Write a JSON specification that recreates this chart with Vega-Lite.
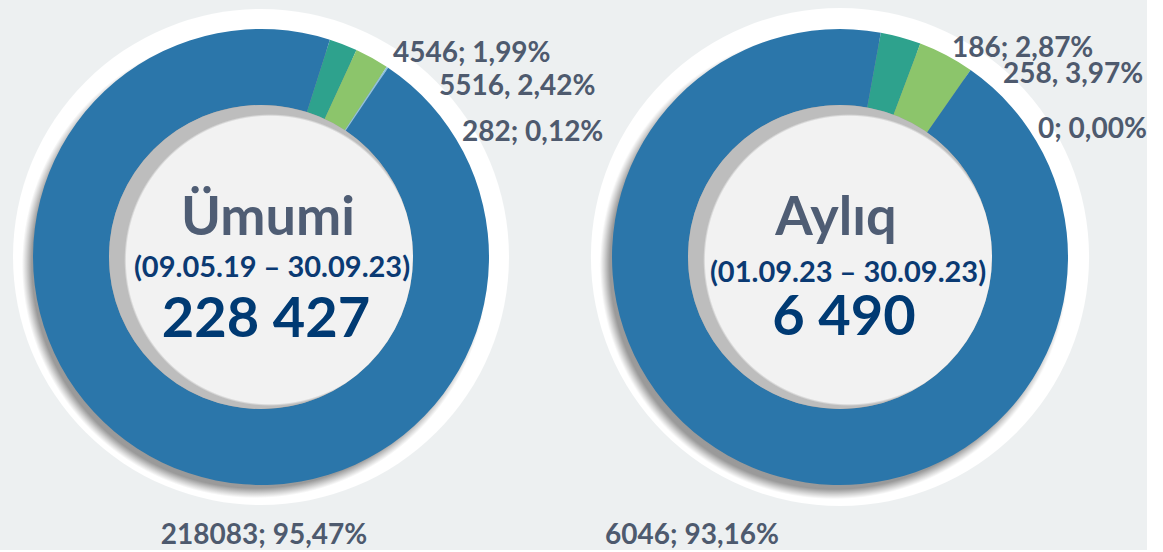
{
  "$schema": "https://vega.github.io/schema/vega-lite/v6.json",
  "background": "#EDF0F1",
  "padding": 0,
  "autosize": {"type": "pad"},
  "bounds": "flush",
  "spacing": 57,
  "config": {"view": {"stroke": null}, "text": {"font": "Lato"}},
  "datasets": {
    "umumi": [
      {"category": "cat1", "value": 4546, "label": "4546; 1,99%"},
      {"category": "cat2", "value": 5516, "label": "5516, 2,42%"},
      {"category": "cat3", "value": 282, "label": "282; 0,12%"},
      {"category": "cat4", "value": 218083, "label": "218083; 95,47%"}
    ],
    "ayliq": [
      {"category": "cat1", "value": 186, "label": "186; 2,87%"},
      {"category": "cat2", "value": 258, "label": "258, 3,97%"},
      {"category": "cat3", "value": 0, "label": "0; 0,00%"},
      {"category": "cat4", "value": 6046, "label": "6046; 93,16%"}
    ],
    "panels": [
      {"panel": "umumi", "title": "Ümumi", "period": "(09.05.19 – 30.09.23)", "total": "228 427"},
      {"panel": "ayliq", "title": "Aylıq", "period": "(01.09.23 – 30.09.23)", "total": "6 490"}
    ]
  },
  "hconcat": [
    {
      "width": 522,
      "height": 514,
      "layer": [
        {
          "data": {"name": "panels"},
          "transform": [{"filter": {"field": "panel", "equal": "umumi"}}],
          "mark": {"type": "arc", "radius": 248, "theta": 0, "theta2": 6.2832,
            "fill": {"gradient": "radial", "x1": 0.488, "y1": 0.516, "r1": 0, "x2": 0.488, "y2": 0.516, "r2": 0.5,
              "stops": [{"offset": 0, "color": "#8f8f8f"}, {"offset": 0.9, "color": "#9a9a9a"}, {"offset": 0.922, "color": "#d4d4d4"}, {"offset": 0.94, "color": "#ffffff"}, {"offset": 1, "color": "#ffffff"}]}},
          "encoding": {}
        },
        {
          "data": {"name": "umumi"},
          "mark": {"type": "arc", "radius": 228, "innerRadius": 152},
          "encoding": {
            "theta": {"field": "value", "type": "quantitative", "stack": true, "scale": {"range": [0.307, 6.590]}},
            "color": {"field": "category", "type": "nominal", "legend": null,
              "scale": {"domain": ["cat1", "cat2", "cat3", "cat4"], "range": ["#2EA28D", "#8CC56B", "#8EC3DF", "#2B76AA"]}},
            "order": {"field": "category", "sort": "ascending"}
          }
        },
        {
          "data": {"name": "panels"},
          "transform": [{"filter": {"field": "panel", "equal": "umumi"}}],
          "mark": {"type": "arc", "radius": 152, "theta": 0, "theta2": 6.2832,
            "fill": {"gradient": "radial", "x1": 0.53, "y1": 0.51, "r1": 0, "x2": 0.53, "y2": 0.51, "r2": 0.48,
              "stops": [{"offset": 0, "color": "#F2F2F2"}, {"offset": 0.985, "color": "#F2F2F2"}, {"offset": 1, "color": "#BDBDBD"}]}},
          "encoding": {}
        },
        {
          "data": {"name": "panels"},
          "transform": [{"filter": {"field": "panel", "equal": "umumi"}}],
          "mark": {"type": "text", "fontSize": 54, "fontWeight": "bold", "color": "#4F5D74", "align": "center", "baseline": "alphabetic", "dx": 7, "dy": -22},
          "encoding": {"text": {"field": "title"}}
        },
        {
          "data": {"name": "panels"},
          "transform": [{"filter": {"field": "panel", "equal": "umumi"}}],
          "mark": {"type": "text", "fontSize": 29, "fontWeight": "bold", "color": "#0B3A73", "align": "center", "baseline": "alphabetic", "dx": 11, "dy": 20},
          "encoding": {"text": {"field": "period"}}
        },
        {
          "data": {"name": "panels"},
          "transform": [{"filter": {"field": "panel", "equal": "umumi"}}],
          "mark": {"type": "text", "fontSize": 56, "fontWeight": "bold", "color": "#003A73", "align": "center", "baseline": "alphabetic", "dx": 5, "dy": 80},
          "encoding": {"text": {"field": "total"}}
        },
        {
          "data": {"name": "umumi"},
          "transform": [{"filter": {"field": "category", "equal": "cat1"}}],
          "mark": {"type": "text", "fontSize": 28, "fontWeight": "bold", "color": "#4E5A6E", "align": "left", "baseline": "alphabetic", "dx": 132, "dy": -195},
          "encoding": {"text": {"field": "label"}}
        },
        {
          "data": {"name": "umumi"},
          "transform": [{"filter": {"field": "category", "equal": "cat2"}}],
          "mark": {"type": "text", "fontSize": 28, "fontWeight": "bold", "color": "#4E5A6E", "align": "left", "baseline": "alphabetic", "dx": 178, "dy": -162},
          "encoding": {"text": {"field": "label"}}
        },
        {
          "data": {"name": "umumi"},
          "transform": [{"filter": {"field": "category", "equal": "cat3"}}],
          "mark": {"type": "text", "fontSize": 28, "fontWeight": "bold", "color": "#4E5A6E", "align": "left", "baseline": "alphabetic", "dx": 201, "dy": -116},
          "encoding": {"text": {"field": "label"}}
        },
        {
          "data": {"name": "umumi"},
          "transform": [{"filter": {"field": "category", "equal": "cat4"}}],
          "mark": {"type": "text", "fontSize": 28, "fontWeight": "bold", "color": "#4E5A6E", "align": "center", "baseline": "alphabetic", "dx": 3, "dy": 287},
          "encoding": {"text": {"field": "label"}}
        }
      ]
    },
    {
      "width": 522,
      "height": 514,
      "layer": [
        {
          "data": {"name": "panels"},
          "transform": [{"filter": {"field": "panel", "equal": "ayliq"}}],
          "mark": {"type": "arc", "radius": 249, "theta": 0, "theta2": 6.2832,
            "fill": {"gradient": "radial", "x1": 0.488, "y1": 0.516, "r1": 0, "x2": 0.488, "y2": 0.516, "r2": 0.5,
              "stops": [{"offset": 0, "color": "#8f8f8f"}, {"offset": 0.9, "color": "#9a9a9a"}, {"offset": 0.922, "color": "#d4d4d4"}, {"offset": 0.94, "color": "#ffffff"}, {"offset": 1, "color": "#ffffff"}]}},
          "encoding": {}
        },
        {
          "data": {"name": "ayliq"},
          "mark": {"type": "arc", "radius": 228, "innerRadius": 152},
          "encoding": {
            "theta": {"field": "value", "type": "quantitative", "stack": true, "scale": {"range": [0.18, 6.463]}},
            "color": {"field": "category", "type": "nominal", "legend": null,
              "scale": {"domain": ["cat1", "cat2", "cat3", "cat4"], "range": ["#2EA28D", "#8CC56B", "#8EC3DF", "#2B76AA"]}},
            "order": {"field": "category", "sort": "ascending"}
          }
        },
        {
          "data": {"name": "panels"},
          "transform": [{"filter": {"field": "panel", "equal": "ayliq"}}],
          "mark": {"type": "arc", "radius": 152, "theta": 0, "theta2": 6.2832,
            "fill": {"gradient": "radial", "x1": 0.53, "y1": 0.51, "r1": 0, "x2": 0.53, "y2": 0.51, "r2": 0.48,
              "stops": [{"offset": 0, "color": "#F2F2F2"}, {"offset": 0.985, "color": "#F2F2F2"}, {"offset": 1, "color": "#BDBDBD"}]}},
          "encoding": {}
        },
        {
          "data": {"name": "panels"},
          "transform": [{"filter": {"field": "panel", "equal": "ayliq"}}],
          "mark": {"type": "text", "fontSize": 54, "fontWeight": "bold", "color": "#4F5D74", "align": "center", "baseline": "alphabetic", "dx": -4, "dy": -22},
          "encoding": {"text": {"field": "title"}}
        },
        {
          "data": {"name": "panels"},
          "transform": [{"filter": {"field": "panel", "equal": "ayliq"}}],
          "mark": {"type": "text", "fontSize": 29, "fontWeight": "bold", "color": "#0B3A73", "align": "center", "baseline": "alphabetic", "dx": 8, "dy": 25},
          "encoding": {"text": {"field": "period"}}
        },
        {
          "data": {"name": "panels"},
          "transform": [{"filter": {"field": "panel", "equal": "ayliq"}}],
          "mark": {"type": "text", "fontSize": 56, "fontWeight": "bold", "color": "#003A73", "align": "center", "baseline": "alphabetic", "dx": 4, "dy": 78},
          "encoding": {"text": {"field": "total"}}
        },
        {
          "data": {"name": "ayliq"},
          "transform": [{"filter": {"field": "category", "equal": "cat1"}}],
          "mark": {"type": "text", "fontSize": 28, "fontWeight": "bold", "color": "#4E5A6E", "align": "left", "baseline": "alphabetic", "dx": 112, "dy": -200},
          "encoding": {"text": {"field": "label"}}
        },
        {
          "data": {"name": "ayliq"},
          "transform": [{"filter": {"field": "category", "equal": "cat2"}}],
          "mark": {"type": "text", "fontSize": 28, "fontWeight": "bold", "color": "#4E5A6E", "align": "left", "baseline": "alphabetic", "dx": 163, "dy": -174},
          "encoding": {"text": {"field": "label"}}
        },
        {
          "data": {"name": "ayliq"},
          "transform": [{"filter": {"field": "category", "equal": "cat3"}}],
          "mark": {"type": "text", "fontSize": 28, "fontWeight": "bold", "color": "#4E5A6E", "align": "left", "baseline": "alphabetic", "dx": 198, "dy": -119},
          "encoding": {"text": {"field": "label"}}
        },
        {
          "data": {"name": "ayliq"},
          "transform": [{"filter": {"field": "category", "equal": "cat4"}}],
          "mark": {"type": "text", "fontSize": 28, "fontWeight": "bold", "color": "#4E5A6E", "align": "center", "baseline": "alphabetic", "dx": -148, "dy": 287},
          "encoding": {"text": {"field": "label"}}
        }
      ]
    }
  ]
}
